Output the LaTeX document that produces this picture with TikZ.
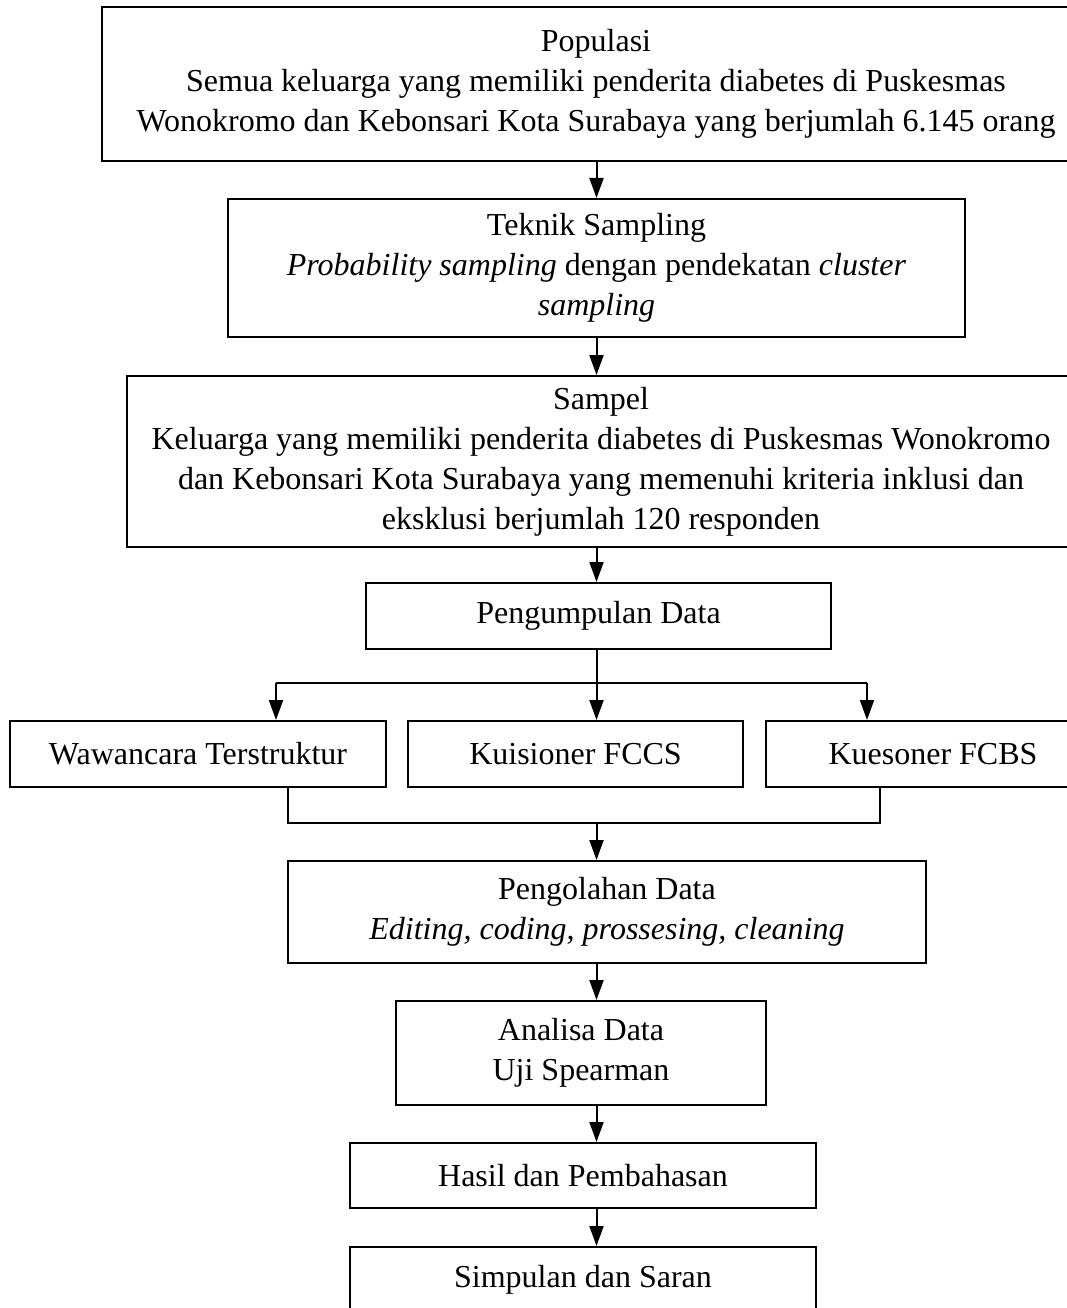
\documentclass[tikz,border=0pt]{standalone}
\usepackage{fontspec}
\setmainfont{Liberation Serif}
\usetikzlibrary{arrows.meta}
\tikzset{
	kotak/.style={draw, line width=2pt, inner sep=0pt, align=center, font=\fontsize{32}{40}\selectfont},
	panah/.style={-{Triangle[length=20pt,width=14pt]}, line width=2pt},
	garis/.style={line width=2pt}
}

\begin{document}
\begin{tikzpicture}[x=1pt,y=-1pt]
		\useasboundingbox (0,0) rectangle (1067,1308);
		\clip (0,0) rectangle (1067,1308);

		\node[kotak, minimum width=988pt, minimum height=154pt] (populasi) at (596,84) {Populasi\\Semua keluarga yang memiliki penderita diabetes di Puskesmas\\Wonokromo dan Kebonsari Kota Surabaya yang berjumlah 6.145 orang};
		\node[kotak, minimum width=737pt, minimum height=138pt] (teknik) at (596.5,268) {Teknik Sampling\\\textit{Probability sampling} dengan pendekatan \textit{cluster}\\\textit{sampling}};
		\node[kotak, minimum width=948pt, minimum height=171pt] (sampel) at (601,461.5) {Sampel\\Keluarga yang memiliki penderita diabetes di Puskesmas Wonokromo\\dan Kebonsari Kota Surabaya yang memenuhi kriteria inklusi dan\\eksklusi berjumlah 120 responden};
		\node[kotak, minimum width=465pt, minimum height=66pt] (kumpul) at (598.5,616) {Pengumpulan Data};

		\node[kotak, minimum width=376pt, minimum height=66pt] (wawancara) at (198,754) {Wawancara Terstruktur};
		\node[kotak, minimum width=335pt, minimum height=66pt] (fccs) at (575.5,754) {Kuisioner FCCS};
		\node[kotak, minimum width=334pt, minimum height=66pt] (fcbs) at (933,754) {Kuesoner FCBS};

		\node[kotak, minimum width=638pt, minimum height=102pt] (olah) at (607,912) {Pengolahan Data\\\textit{Editing, coding, prossesing, cleaning}};
		\node[kotak, minimum width=370pt, minimum height=104pt] (analisa) at (581,1053) {Analisa Data\\Uji Spearman};
		\node[kotak, minimum width=466pt, minimum height=65pt] (hasil) at (583,1175.5) {Hasil dan Pembahasan};
		\node[kotak, minimum width=466pt, minimum height=65pt] (simpulan) at (583,1279.5) {Simpulan dan Saran};

		% sumbu tengah dan titik cabang
		\coordinate (sumbu) at (596.5,0);
		\coordinate (cabang) at (596.5,683);
		\coordinate (gabung) at (596.5,823);
		\coordinate (kiri) at ([xshift=78pt]wawancara.north);
		\coordinate (kanan) at ([xshift=-66pt]fcbs.north);

		\draw[panah] (sumbu |- populasi.south) -- (sumbu |- teknik.north);
		\draw[panah] (sumbu |- teknik.south) -- (sumbu |- sampel.north);
		\draw[panah] (sumbu |- sampel.south) -- (sumbu |- kumpul.north);
		\draw[panah] (sumbu |- kumpul.south) -- (sumbu |- fccs.north);

		\draw[garis] (kiri |- cabang) -- (kanan |- cabang);
		\draw[panah] (kiri |- cabang) -- (kiri);
		\draw[panah] (kanan |- cabang) -- (kanan);

		\draw[garis] ([xshift=90pt]wawancara.south) |- (gabung) -| ([xshift=-53pt]fcbs.south);
		\draw[panah] (gabung) -- (gabung |- olah.north);

		\draw[panah] (sumbu |- olah.south) -- (sumbu |- analisa.north);
		\draw[panah] (sumbu |- analisa.south) -- (sumbu |- hasil.north);
		\draw[panah] (sumbu |- hasil.south) -- (sumbu |- simpulan.north);
	\end{tikzpicture}
\end{document}
